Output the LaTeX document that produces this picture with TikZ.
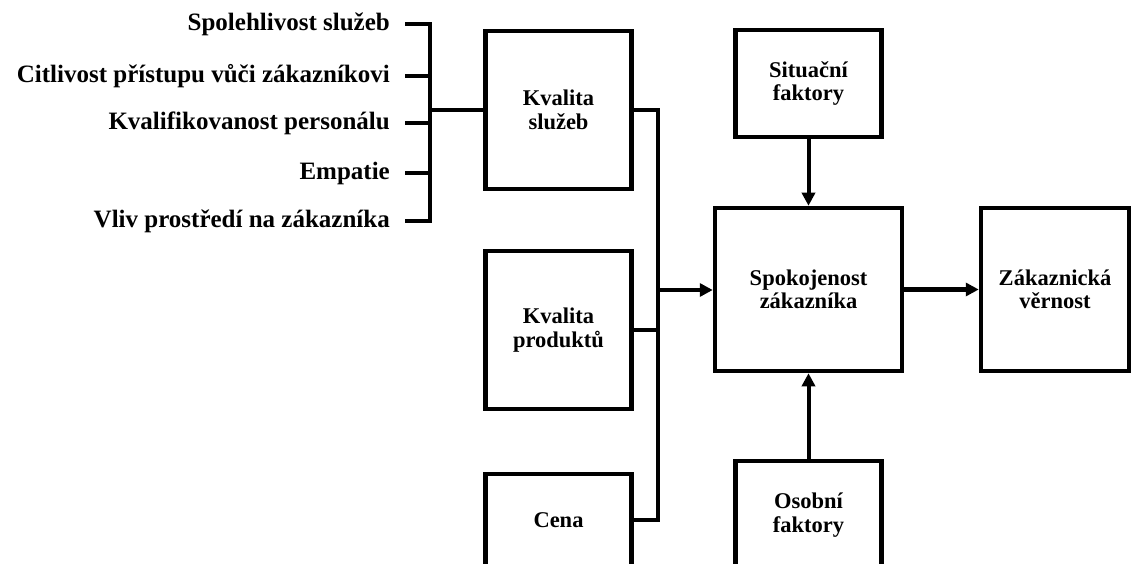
\documentclass[tikz,border=0pt]{standalone}
\usepackage{fontspec}
\setmainfont{Liberation Serif}
\usetikzlibrary{arrows.meta, positioning}

\begin{document}
\begin{tikzpicture}[x=1pt, y=-1pt,
  block/.style={
    draw,
    rectangle,
    line width=4.5pt,
    inner sep=0pt,
    minimum width=146pt,
    align=center,
    font=\fontsize{22.5}{23.5}\selectfont\bfseries
  },
  item/.style={anchor=east, inner xsep=15pt, font=\fontsize{25}{28}\selectfont\bfseries},
  wire/.style={line width=4pt},
  line/.style={-{Triangle[length=13pt, width=13pt]}, line width=4pt}
  ]

\path[use as bounding box] (0,0) rectangle (1133,564);
\clip (0,0) rectangle (1133,564);

% Main blocks
\node[block, minimum width=187pt, minimum height=163pt] (spok) at (808.5,289.5) {Spokojenost\\zákazníka};
\node[block, minimum height=107pt, above=66.5pt of spok] (situ) {Situační\\faktory};
\node[block, minimum height=108pt, below=85.5pt of spok] (osob) {Osobní\\faktory};
\node[block, minimum width=148pt, minimum height=163pt, right=74.5pt of spok] (verno) {Zákaznická\\věrnost};

% Inputs
\node[block, minimum height=158pt] (kvsluz) at (558.5,110) {Kvalita\\služeb};
\node[block, minimum height=158pt, below=57.5pt of kvsluz] (kvprod) {Kvalita\\produktů};
\node[block, minimum height=92pt, below=60.5pt of kvprod] (cena) {Cena};

% Service quality items
\node[item] (spol) at (405,24) {Spolehlivost služeb};
\node[item] (citl) at (405,76) {Citlivost přístupu vůči zákazníkovi};
\node[item] (kval) at (405,123) {Kvalifikovanost personálu};
\node[item] (empa) at (405,173) {Empatie};
\node[item] (vliv) at (405,221) {Vliv prostředí na zákazníka};

\coordinate (brk) at (430,110);
\coordinate (junc) at (658,290);

% Bracket
\draw[wire] (spol.east) -- (spol.east -| brk) -- (vliv.east -| brk) -- (vliv.east);
\draw[wire] (citl.east) -- (citl.east -| brk);
\draw[wire] (kval.east) -- (kval.east -| brk);
\draw[wire] (empa.east) -- (empa.east -| brk);
\draw[wire] (brk) -- (kvsluz);

% Arrows
\draw[wire] (kvsluz.east) -| (junc) |- (cena.east);
\draw[wire] (kvprod.east) -- (kvprod.east -| junc);
\draw[line] (junc) -- (junc -| spok.west);
\draw[line] (situ) -- (spok);
\draw[line] (osob) -- (spok);
\draw[line] (spok) -- (verno);

\end{tikzpicture}
\end{document}
